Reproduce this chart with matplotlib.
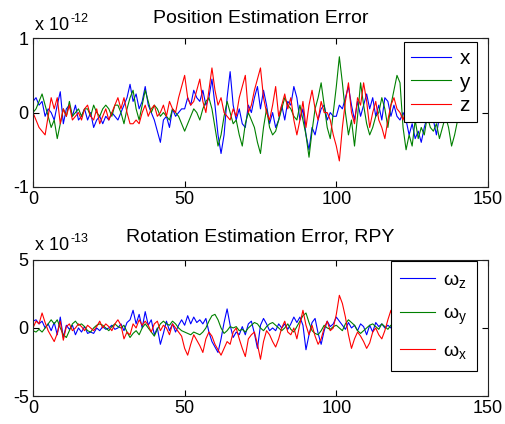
import numpy as np
import matplotlib
matplotlib.use('Agg')
import matplotlib.pyplot as plt

plt.rcParams['font.family'] = ['Liberation Sans', 'DejaVu Sans']
plt.rcParams['mathtext.fontset'] = 'custom'
plt.rcParams['mathtext.rm'] = 'Liberation Sans'
plt.rcParams['mathtext.it'] = 'Liberation Sans'
plt.rcParams['mathtext.default'] = 'regular'
plt.rcParams['axes.unicode_minus'] = False

# Position error, units of 1e-12
pos_x = [0.15, 0.2, 0.1, 0.15, -0.05, 0.05, 0.0, -0.1, 0.1, 0.28,
         -0.15, 0.05, 0.1, -0.05, 0.1, -0.1, -0.05, 0.05, -0.1, 0.0,
         -0.2, -0.1, -0.05, -0.15, -0.05, -0.1, 0.0, -0.05, -0.1, 0.0,
         0.1, 0.2, 0.38, 0.15, 0.25, 0.05, 0.15, 0.35, 0.1, 0.0,
         -0.1, -0.25, -0.4, -0.1, -0.05, -0.2, 0.05, -0.05, 0.0, 0.05,
         0.05, 0.2, 0.1, 0.3, 0.2, 0.15, 0.3, 0.1, 0.2, 0.45,
         0.1, -0.3, -0.55, -0.3, 0.2, 0.55, 0.1, -0.1, 0.05, -0.15,
         -0.2, 0.1, 0.0, 0.2, 0.35, 0.05, 0.3, 0.1, -0.15, 0.0,
         -0.2, -0.1, 0.1, -0.1, 0.15, 0.1, 0.35, 0.2, -0.1, 0.05,
         -0.3, -0.5, -0.2, -0.3, -0.1, 0.05, 0.1, -0.1, 0.0, -0.05,
         -0.05, 0.1, 0.05, 0.2, 0.35, 0.1, -0.1, 0.15, -0.05, 0.1,
         0.25, 0.05, 0.2, -0.05, 0.1, -0.1, 0.2, 0.15, -0.05, 0.1,
         -0.05, -0.1, 0.0, -0.1, -0.3, -0.15, -0.35, -0.25, -0.4, -0.2,
         -0.05, 0.0, -0.1, -0.3, -0.05]
pos_y = [0.0, 0.05, 0.15, 0.25, 0.1, -0.05, -0.2, -0.1, -0.35, -0.15,
         0.05, -0.05, 0.15, -0.05, 0.0, 0.05, -0.05, 0.05, 0.05, -0.05,
         0.1, 0.0, -0.05, 0.05, 0.1, 0.05, -0.05, 0.1, 0.1, 0.0,
         -0.15, 0.05, 0.2, 0.3, 0.05, -0.1, 0.1, 0.3, 0.15, 0.0,
         0.1, 0.05, -0.05, 0.0, -0.05, -0.1, 0.05, 0.0, -0.05, -0.15,
         -0.25, -0.15, -0.05, 0.05, 0.0, -0.1, 0.05, 0.15, 0.2, 0.05,
         -0.2, -0.45, -0.3, -0.05, 0.15, 0.0, -0.15, -0.1, -0.3, -0.45,
         -0.15, 0.0, -0.1, -0.2, -0.4, -0.55, -0.2, 0.05, -0.2, -0.3,
         -0.25, -0.1, 0.05, 0.2, 0.1, 0.05, -0.05, -0.1, 0.1, -0.1,
         -0.3, -0.6, -0.25, 0.05, 0.2, 0.4, 0.1, -0.2, -0.35, 0.0,
         0.35, 0.75, 0.4, 0.0, -0.3, -0.1, -0.45, -0.05, 0.4, 0.1,
         -0.15, -0.3, -0.2, -0.05, 0.0, 0.2, 0.05, -0.2, 0.1, 0.3,
         0.5, 0.4, -0.2, -0.5, -0.3, -0.45, -0.1, -0.35, -0.2, -0.3,
         -0.05, -0.2, -0.25, -0.15, -0.35, -0.2, -0.05, -0.2, -0.45, -0.3,
         -0.1]
pos_z = [0.0, -0.1, -0.2, -0.25, -0.3, -0.05, 0.2, 0.05, 0.2, -0.15,
         0.05, -0.05, 0.1, -0.1, -0.05, 0.0, -0.1, 0.05, 0.1, -0.05,
         -0.1, 0.05, -0.15, -0.05, 0.05, -0.1, 0.0, 0.1, 0.2, 0.05,
         0.2, 0.0, -0.15, -0.15, -0.1, -0.15, 0.0, 0.1, -0.05, 0.05,
         0.1, -0.05, 0.0, 0.1, -0.05, 0.15, 0.05, 0.0, 0.2, 0.35,
         0.5, 0.2, 0.1, 0.15, 0.3, 0.45, 0.15, 0.0, 0.3, 0.6,
         0.3, 0.1, 0.2, 0.0, -0.05, -0.1, 0.05, -0.05, 0.2, 0.35,
         0.5, 0.0, 0.1, 0.3, 0.45, 0.6, 0.2, 0.0, -0.1, 0.1,
         0.35, -0.05, 0.1, 0.25, 0.05, 0.2, -0.1, -0.3, -0.1, 0.15,
         -0.2, 0.1, 0.3, 0.05, -0.1, 0.15, 0.0, 0.0, -0.1, -0.3,
         -0.45, -0.65, -0.2, 0.15, 0.4, 0.0, -0.15, 0.2, 0.1, 0.4,
         0.15, -0.2, 0.0, 0.15, -0.1, -0.2, -0.35, -0.1, 0.1, 0.2,
         0.05, 0.0, -0.1, 0.05, 0.0, 0.0]

# Rotation error (RPY), units of 1e-13
rot_z = [0.5, 0.6, 0.3, 0.5, 0.0, 0.3, -0.2, 0.4, -0.5, 0.8,
         -0.7, 0.2, -0.1, 0.2, -0.5, 0.0, -0.3, 0.1, -0.4, -0.3,
         -0.4, 0.0, -0.2, 0.1, -0.1, 0.0, 0.2, -0.1, 0.0, 0.3,
         -0.2, 0.4, 0.6, 1.3, 0.3, 1.0, 0.0, 1.2, 0.2, 0.6,
         -0.5, 0.0, -1.2, -0.4, 0.5, -0.2, 0.3, -0.3, 0.2, 0.6,
         0.2, 0.9, 0.3, 0.8, 0.4, 0.6, 0.3, 0.7, -0.3, -1.0,
         -1.4, -1.8, -0.8, 0.4, 1.4, 0.2, -0.7, -0.3, -0.5, 0.1,
         -0.5, 0.3, 0.5, -0.4, -1.5, 0.2, 0.7, 0.3, -0.2, 0.0,
         -0.2, 0.3, 0.0, 0.3, -0.1, 0.3, 0.8, 0.4, 0.8, 0.2,
         -1.6, -0.5, 0.4, 0.7, -0.4, -1.2, -0.2, 0.5, 0.1, 0.3,
         0.8, 0.5, 0.2, -0.1, 0.4, 0.0, 0.2, -0.2, 0.3, 0.1,
         -0.5, 0.2, -0.3, 0.4, 0.1, 0.3, 0.0, 0.2, 0.0, 0.1,
         0.0]
rot_y = [-0.2, -0.3, -0.1, -0.3, 0.0, 0.3, 0.6, 0.3, 0.6, 0.0,
         -0.5, -0.7, -0.2, 0.3, 0.5, 0.2, 0.3, 0.1, -0.2, -0.3,
         0.0, 0.2, 0.3, 0.2, 0.0, -0.2, 0.1, 0.3, 0.1, 0.0,
         0.2, -0.3, -0.7, -0.4, -0.2, -0.5, 0.0, 0.3, 0.0, -0.3,
         -0.6, -0.1, 0.3, 0.5, 0.3, 0.2, 0.5, 0.3, 0.0, -0.2,
         -0.3, -0.4, -0.5, -0.3, -0.4, -0.5, -0.3, 0.0, 0.5, 0.9,
         1.0, 0.6, 0.0, -0.4, -0.2, 0.1, 0.0, 0.1, -0.2, -0.1,
         -0.3, 0.0, 0.2, 0.4, 0.3, 0.0, -0.2, 0.1, 0.3, 0.4,
         0.2, 0.0, -0.2, 0.0, 0.3, -0.1, -0.3, 0.1, 0.5, 0.9,
         1.1, 0.4, -0.2, -0.4, -0.5, -0.2, 0.2, 0.0, -0.1, 0.1,
         0.2, 0.0, -0.2, 0.3, 0.6, 0.4, 0.2, -0.2, -0.4, -0.2,
         0.0, 0.2, 0.3, 0.1, -0.1, 0.3, 0.1, -0.1, 0.2, 0.0,
         0.0]
rot_x = [0.0, 0.5, 0.3, 1.1, 0.4, -0.2, -0.6, -1.0, -0.4, 0.5,
         -0.9, 0.1, 0.3, -0.2, 0.0, 0.3, 0.1, -0.2, 0.2, 0.0,
         -0.2, 0.1, 0.5, 0.0, 0.3, 0.1, -0.2, 0.3, 0.6, 0.2,
         -0.8, -0.3, -0.5, 0.3, 0.0, 0.6, 0.2, 0.5, 0.2, -0.3,
         0.3, 0.5, -0.2, 0.2, 0.0, -0.5, 0.3, 0.0, -0.3, -0.6,
         -1.5, -2.0, -1.2, -0.5, -0.9, -1.3, -1.8, -0.8, -0.3, -0.6,
         -1.2, -1.6, -2.0, -1.5, -1.0, -1.2, -0.3, 0.0, -0.8, -1.5,
         -2.1, -0.8, -0.5, -0.3, -1.2, -2.3, -1.0, -0.2, -0.5, -1.0,
         -1.4, -0.8, 0.0, 0.5, -0.3, -0.5, 0.0, -0.8, 0.3, 1.3,
         0.2, -0.5, 0.2, -0.6, -1.2, -0.8, 0.0, 0.5, -0.2, 0.0,
         1.0, 2.4, 1.8, 0.8, -0.5, -1.5, -0.8, -0.3, -0.6, -1.0,
         -1.5, -1.1, -0.3, 0.0, -0.5, -0.8, -0.2, 0.6, 1.3, 0.2,
         0.0]

blue = (0, 0, 1)
green = (0, 0.5, 0)
red = (1, 0, 0)
lw = 0.8


def style_axes(ax, yticks, ylim):
    ax.set_xlim(0, 150)
    ax.set_ylim(*ylim)
    ax.set_xticks([0, 50, 100, 150])
    ax.set_yticks(yticks)
    ax.tick_params(direction='in', top=True, right=True, length=4,
                   width=0.8, labelsize=13, pad=3)
    for s in ax.spines.values():
        s.set_linewidth(0.8)
        s.set_color('#222222')


def exponent(ax, y, power):
    # MATLAB style "x 10^-n" above the top left corner
    t = ax.text(0.004, y, 'x 10', transform=ax.transAxes,
                fontsize=13, va='baseline', ha='left')
    ax.annotate(power, xy=(1, 1), xycoords=t, xytext=(1, -3.5),
                textcoords='offset points', fontsize=9,
                va='baseline', ha='left')


fig = plt.figure(figsize=(5.05, 4.24), dpi=100)

ax1 = fig.add_axes([0.0653, 0.559, 0.901, 0.351])
ax1.plot(np.arange(len(pos_x)), pos_x, color=blue, lw=lw, label='x')
ax1.plot(np.arange(len(pos_y)), pos_y, color=green, lw=lw, label='y')
ax1.plot(np.arange(len(pos_z)), pos_z, color=red, lw=lw, label='z')
style_axes(ax1, [-1, 0, 1], (-1, 1))
ax1.set_title('Position Estimation Error', fontsize=14, pad=11)
exponent(ax1, 1.054, '-12')
leg1 = ax1.legend(loc='upper right', bbox_to_anchor=(0.976, 0.973),
                  borderaxespad=0, fontsize=15, handlelength=1.9,
                  handletextpad=0.4, labelspacing=0.2, fancybox=False,
                  framealpha=1, borderpad=0.35)
leg1.get_frame().set_edgecolor('black')
leg1.get_frame().set_linewidth(0.8)

ax2 = fig.add_axes([0.0653, 0.066, 0.901, 0.321])
ax2.plot(np.arange(len(rot_z)), rot_z, color=blue, lw=lw, label=r'$\omega_z$')
ax2.plot(np.arange(len(rot_y)), rot_y, color=green, lw=lw, label=r'$\omega_y$')
ax2.plot(np.arange(len(rot_x)), rot_x, color=red, lw=lw, label=r'$\omega_x$')
style_axes(ax2, [-5, 0, 5], (-5, 5))
ax2.set_title('Rotation Estimation Error, RPY', fontsize=14, pad=13)
exponent(ax2, 1.075, '-13')
leg2 = ax2.legend(loc='upper right', bbox_to_anchor=(0.976, 0.99),
                  borderaxespad=0, fontsize=14, handlelength=1.8,
                  handletextpad=0.4, labelspacing=0.8, fancybox=False,
                  framealpha=1, borderpad=0.5)
leg2.get_frame().set_edgecolor('black')
leg2.get_frame().set_linewidth(0.8)

fig.savefig('out.png', dpi=100)
